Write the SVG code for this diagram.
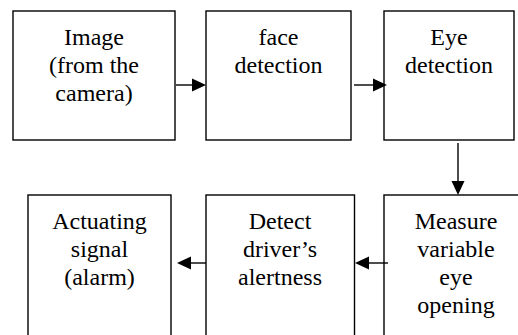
<svg xmlns="http://www.w3.org/2000/svg" width="518" height="335" viewBox="0 0 518 335">
<defs>
<style>
rect.box{fill:#fff;stroke:#000;stroke-width:1.4}
text{font-size:24px;fill:#000;text-anchor:middle}
line.c{stroke:#000;stroke-width:1.4}
polygon.h{fill:#000}
</style>
</defs>
<rect width="518" height="335" fill="#fff"/>
<g id="n1"><rect class="box" x="13" y="11" width="162" height="129"/><text font-family="Liberation Serif" x="94" y="45">Image</text><text font-family="Liberation Serif" x="94" y="73">(from the</text><text font-family="Liberation Serif" x="94" y="101">camera)</text></g>
<g id="n2"><rect class="box" x="206" y="11" width="145" height="129"/><text font-family="Liberation Serif" x="278.5" y="45">face</text><text font-family="Liberation Serif" x="278.5" y="73">detection</text></g>
<g id="n3"><rect class="box" x="384" y="11" width="130" height="129"/><text font-family="Liberation Serif" x="449" y="45">Eye</text><text font-family="Liberation Serif" x="449" y="73">detection</text></g>
<g id="n4"><rect class="box" x="384" y="195" width="150" height="160"/><text font-family="Liberation Serif" x="456" y="229">Measure</text><text font-family="Liberation Serif" x="456" y="257">variable</text><text font-family="Liberation Serif" x="456" y="285">eye</text><text font-family="Liberation Serif" x="456" y="313">opening</text></g>
<g id="n5"><rect class="box" x="206" y="195" width="148.5" height="160"/><text font-family="Liberation Serif" x="280" y="229">Detect</text><text font-family="Liberation Serif" x="280" y="257">driver’s</text><text font-family="Liberation Serif" x="280" y="285">alertness</text></g>
<g id="n6"><rect class="box" x="28" y="195" width="143" height="160"/><text font-family="Liberation Serif" x="99.5" y="229">Actuating</text><text font-family="Liberation Serif" x="99.5" y="257">signal</text><text font-family="Liberation Serif" x="99.5" y="285">(alarm)</text></g>
<g id="connectors">
<line class="c" x1="176" y1="85" x2="193" y2="85"/><polygon class="h" points="192,78.5 206,85 192,91.5"/>
<line class="c" x1="354" y1="85" x2="374" y2="85"/><polygon class="h" points="373,78.5 387,85 373,91.5"/>
<line class="c" x1="458" y1="143" x2="458" y2="182"/><polygon class="h" points="451.5,181 464.5,181 458,195"/>
<line class="c" x1="388" y1="263" x2="368" y2="263"/><polygon class="h" points="369,256.5 355,263 369,269.5"/>
<line class="c" x1="206" y1="263" x2="190" y2="263"/><polygon class="h" points="191,256.5 177,263 191,269.5"/>
</g>
</svg>
